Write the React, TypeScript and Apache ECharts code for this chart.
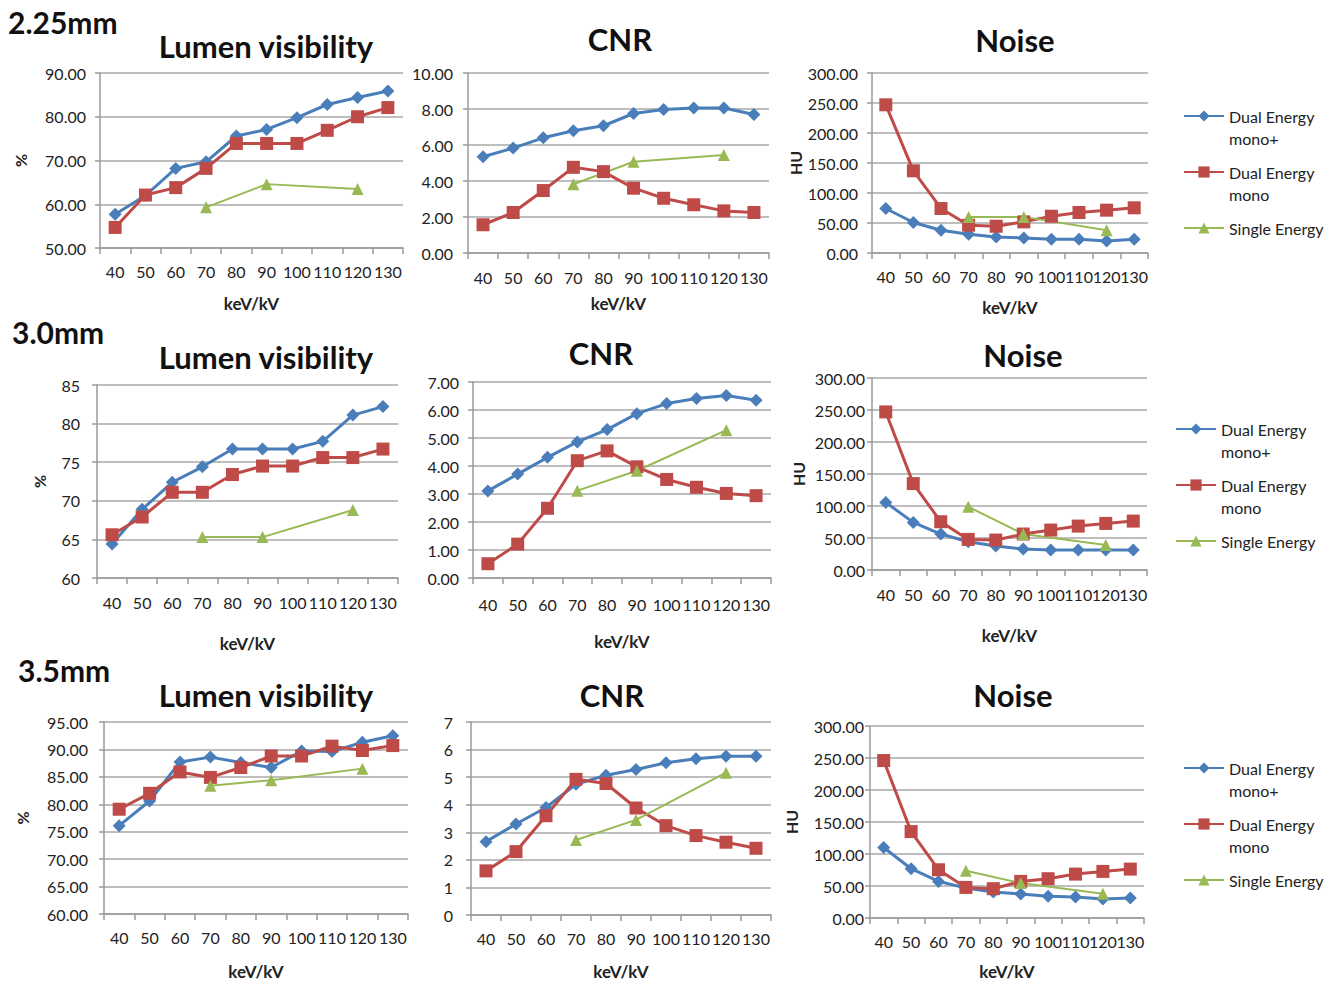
import React, { useEffect, useRef } from 'react';
import * as echarts from 'echarts';

const categories = ['40', '50', '60', '70', '80', '90', '100', '110', '120', '130'];
const seriesNames = ['Dual Energy mono+', 'Dual Energy mono', 'Single Energy'];
const legendLabels = ['\nDual Energy\nmono+', '\nDual Energy\nmono', '\nSingle Energy\n'];
const rowLabels = ['2.25mm', '3.0mm', '3.5mm'];
const panelTitles = ['Lumen visibility', 'CNR', 'Noise'];

// 2.25 mm
const lumen225MonoPlus = [57.7, 62.0, 68.2, 69.7, 75.6, 77.1, 79.8, 82.8, 84.4, 85.9];
const lumen225Mono = [54.7, 62.1, 63.8, 68.2, 73.9, 73.9, 73.9, 76.9, 80.0, 82.1];
const lumen225Single = [null, null, null, 59.3, null, 64.6, null, null, 63.5, null];
const cnr225MonoPlus = [5.35, 5.83, 6.4, 6.79, 7.07, 7.75, 7.97, 8.06, 8.06, 7.69];
const cnr225Mono = [1.57, 2.25, 3.47, 4.76, 4.52, 3.6, 3.04, 2.68, 2.34, 2.25];
const cnr225Single = [null, null, null, 3.82, null, 5.07, null, null, 5.44, null];
const noise225MonoPlus = [74.2, 50.8, 37.9, 31.2, 26.8, 25.1, 22.9, 22.9, 20.1, 22.9];
const noise225Mono = [247, 137, 74.2, 46.3, 44.6, 51.9, 61.3, 67.5, 71.4, 75.3];
const noise225Single = [null, null, null, 60.2, null, 60.2, null, null, 37.9, null];

// 3.0 mm
const lumen30MonoPlus = [64.4, 68.9, 72.4, 74.4, 76.7, 76.7, 76.7, 77.7, 81.1, 82.2];
const lumen30Mono = [65.6, 67.9, 71.1, 71.1, 73.4, 74.5, 74.5, 75.6, 75.6, 76.7];
const lumen30Single = [null, null, null, 65.3, null, 65.3, null, null, 68.8, null];
const cnr30MonoPlus = [3.11, 3.71, 4.31, 4.86, 5.3, 5.87, 6.23, 6.41, 6.52, 6.35];
const cnr30Mono = [0.51, 1.21, 2.49, 4.19, 4.54, 3.97, 3.52, 3.24, 3.02, 2.94];
const cnr30Single = [null, null, null, 3.12, null, 3.83, null, null, 5.28, null];
const noise30MonoPlus = [105.6, 74.4, 56.2, 44.2, 37.4, 32.8, 31.2, 31.2, 31.2, 31.2];
const noise30Mono = [247, 135, 75.4, 47.8, 46.8, 56.2, 62.4, 68.6, 72.8, 76.4];
const noise30Single = [null, null, null, 98.8, null, 56.2, null, null, 39.0, null];

// 3.5 mm
const lumen35MonoPlus = [76.1, 80.6, 87.7, 88.6, 87.6, 86.7, 89.7, 89.6, 91.3, 92.5];
const lumen35Mono = [79.1, 82.0, 85.9, 84.9, 86.7, 88.8, 88.8, 90.6, 89.8, 90.7];
const lumen35Single = [null, null, null, 83.4, null, 84.4, null, null, 86.5, null];
const cnr35MonoPlus = [2.66, 3.3, 3.9, 4.74, 5.07, 5.28, 5.52, 5.67, 5.76, 5.76];
const cnr35Mono = [1.6, 2.3, 3.6, 4.92, 4.77, 3.88, 3.24, 2.88, 2.64, 2.42];
const cnr35Single = [null, null, null, 2.72, null, 3.45, null, null, 5.16, null];
const noise35MonoPlus = [110.2, 77.0, 57.2, 46.8, 40.6, 37.4, 33.8, 32.8, 29.6, 31.2];
const noise35Mono = [246, 135, 75.4, 47.8, 45.8, 57.2, 61.4, 68.6, 72.8, 76.4];
const noise35Single = [null, null, null, 73.8, null, 54.6, null, null, 38.0, null];

const panelData = [
  [lumen225MonoPlus, lumen225Mono, lumen225Single],
  [cnr225MonoPlus, cnr225Mono, cnr225Single],
  [noise225MonoPlus, noise225Mono, noise225Single],
  [lumen30MonoPlus, lumen30Mono, lumen30Single],
  [cnr30MonoPlus, cnr30Mono, cnr30Single],
  [noise30MonoPlus, noise30Mono, noise30Single],
  [lumen35MonoPlus, lumen35Mono, lumen35Single],
  [cnr35MonoPlus, cnr35Mono, cnr35Single],
  [noise35MonoPlus, noise35Mono, noise35Single],
];

// y-axis scales per panel: [min, max, step, decimals]
const yScales = [
  [50, 90, 10, 2], [0, 10, 2, 2], [0, 300, 50, 2],
  [60, 85, 5, 0], [0, 7, 1, 2], [0, 300, 50, 2],
  [60, 95, 5, 2], [0, 7, 1, 0], [0, 300, 50, 2],
];
const yNames = ['%', '', 'HU', '%', '', 'HU', '%', '', 'HU'];

// layout (pixels)
const grids = [
  [100, 73, 303, 175], [468, 73, 301, 180], [872, 73, 276, 180],
  [97, 385, 301, 193], [473, 382, 298, 196], [872, 378, 275, 192],
  [104, 722, 304, 194], [471, 722, 300, 195], [870, 726, 274, 192],
];
const yLabelMargins = [14, 15, 14, 17, 14, 7, 16, 18, 6];
const xLabelMargins = [15, 16, 15, 16, 18, 16, 15, 15, 15];
const xNameGaps = [47, 42, 46, 57, 55, 57, 49, 48, 45];
const yNameGaps = [72, 0, 68, 50, 0, 66, 74, 0, 71];
const titlePos = [
  [266, 46], [620, 39], [1015, 40],
  [266, 357], [601, 353], [1023, 355],
  [266, 695], [612, 695], [1013, 695],
];
const rowLabelPos = [[8, 22], [12, 332], [18, 670]];
const legendPos = [[1183, 116], [1175, 429], [1183, 768]];

const colors = ['#4A7EBB', '#BE4B48', '#98B954'];
const symbols = ['diamond', 'rect', 'triangle'];
const symbolSizes = [13, 13, 12];
const lineWidths = [3, 3, 2];

const FONT = 'Lato, "Open Sans", sans-serif';
const GRID_COLOR = '#a8a8a8';
const AXIS_COLOR = '#9a9a9a';

export default function App() {
  const ref = useRef<HTMLDivElement>(null);

  useEffect(() => {
    if (!ref.current) return;
    const chart = echarts.init(ref.current, undefined, { renderer: 'svg' });

    const grid = grids.map(([l, t, w, h]) => ({ left: l, top: t, width: w, height: h, containLabel: false }));

    const xAxis = grids.map((_, i) => ({
      type: 'category',
      gridIndex: i,
      data: categories,
      boundaryGap: true,
      axisLine: { show: true, lineStyle: { color: AXIS_COLOR, width: 1.5 } },
      axisTick: { show: true, length: 6, alignWithLabel: false, interval: 0, lineStyle: { color: AXIS_COLOR, width: 1.5 } },
      axisLabel: { interval: 0, margin: xLabelMargins[i], fontSize: 16, color: '#222', fontFamily: FONT },
      splitLine: { show: false },
      name: 'keV/kV',
      nameLocation: 'middle',
      nameGap: xNameGaps[i],
      nameTextStyle: { fontWeight: 'bold', fontSize: 17, color: '#222', fontFamily: FONT },
    }));

    const yAxis = grids.map((_, i) => {
      const [min, max, step, dec] = yScales[i];
      return {
        type: 'value',
        gridIndex: i,
        min,
        max,
        interval: step,
        axisLine: { show: true, lineStyle: { color: AXIS_COLOR, width: 1.5 } },
        axisTick: { show: true, length: 5, lineStyle: { color: AXIS_COLOR, width: 1.5 } },
        axisLabel: {
          margin: yLabelMargins[i],
          fontSize: 16,
          color: '#222',
          fontFamily: FONT,
          formatter: (v: number) => v.toFixed(dec),
        },
        splitLine: { show: true, lineStyle: { color: GRID_COLOR, width: 1.5 } },
        name: yNames[i],
        nameLocation: 'middle',
        nameGap: yNameGaps[i],
        nameRotate: 90,
        nameTextStyle: { fontWeight: 'bold', fontSize: 16, color: '#222', fontFamily: FONT },
      };
    });

    const series: any[] = [];
    panelData.forEach((sets, i) => {
      sets.forEach((data, s) => {
        series.push({
          type: 'line',
          name: seriesNames[s],
          xAxisIndex: i,
          yAxisIndex: i,
          data,
          connectNulls: true,
          showSymbol: true,
          showAllSymbol: true,
          symbol: symbols[s],
          symbolSize: symbolSizes[s],
          lineStyle: { color: colors[s], width: lineWidths[s] },
          itemStyle: { color: colors[s] },
          emphasis: { disabled: true },
        });
      });
    });

    const legend = legendPos.map(([x, c]) => ({
      orient: 'vertical',
      left: x,
      top: c - 33,
      padding: 0,
      itemWidth: 40,
      itemHeight: 14,
      itemGap: -10,
      selectedMode: false,
      textStyle: { fontSize: 16, lineHeight: 22, color: '#222', fontFamily: FONT },
      formatter: (name: string) => legendLabels[seriesNames.indexOf(name)],
      data: seriesNames,
    }));

    const graphic: any[] = [];
    titlePos.forEach(([x, y], i) => {
      graphic.push({
        type: 'text',
        x,
        y,
        style: {
          text: panelTitles[i % 3],
          font: `bold 31px ${FONT}`,
          fill: '#111',
          align: 'center',
          verticalAlign: 'middle',
          textAlign: 'center',
          textVerticalAlign: 'middle',
        },
      });
    });
    rowLabelPos.forEach(([x, y], r) => {
      graphic.push({
        type: 'text',
        x,
        y,
        style: {
          text: rowLabels[r],
          font: `bold 30px ${FONT}`,
          fill: '#111',
          align: 'left',
          verticalAlign: 'middle',
          textAlign: 'left',
          textVerticalAlign: 'middle',
        },
      });
    });

    chart.setOption({
      animation: false,
      backgroundColor: '#ffffff',
      grid,
      xAxis,
      yAxis,
      series,
      legend,
      graphic,
    });

    return () => chart.dispose();
  }, []);

  return (
    <div
      ref={ref}
      style={{ position: 'absolute', left: 0, top: 0, width: 1338, height: 981, background: '#fff' }}
    />
  );
}
